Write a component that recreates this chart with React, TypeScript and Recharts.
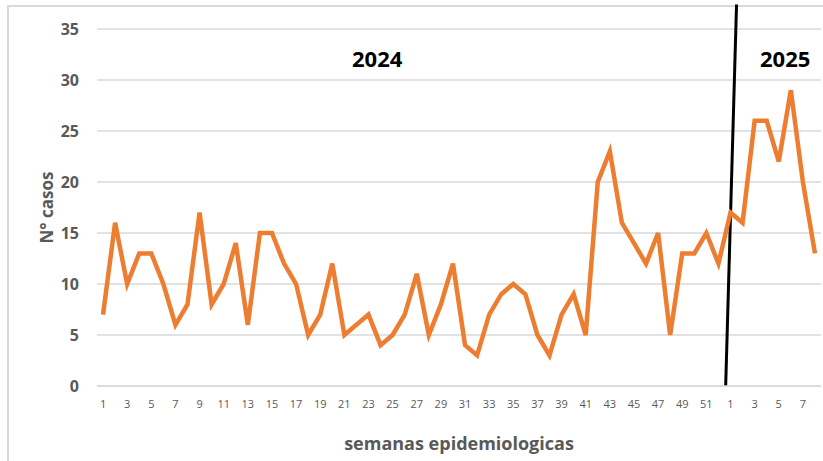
import { LineChart, Line, XAxis, YAxis, CartesianGrid, ReferenceLine, Label } from "recharts";

// semanas 1-52 de 2024 y 1-8 de 2025
const weeks2024 = Array.from({ length: 52 }, (_, i) => String(i + 1));
const weeks2025 = ["1", "2", "3", "4", "5", "6", "7", "8"];

const cases2024 = [
  7, 16, 10, 13, 13, 10, 6, 8, 17, 8, 10, 14, 6, 15, 15, 12, 10, 5, 7, 12,
  5, 6, 7, 4, 5, 7, 11, 5, 8, 12, 4, 3, 7, 9, 10, 9, 5, 3, 7, 9,
  5, 20, 23, 16, 14, 12, 15, 5, 13, 13, 15, 12,
];
const cases2025 = [17, 16, 26, 26, 22, 29, 20, 13];

const yTicks = [0, 5, 10, 15, 20, 25, 30, 35];

const weekLabels = [...weeks2024, ...weeks2025];
const casos = [...cases2024, ...cases2025];
const data = weekLabels.map((w, i) => ({ idx: i, semana: w, casos: casos[i] }));
const xTicks = data.filter((d) => d.idx % 2 === 0).map((d) => d.idx);

const gray = "#595959";
const font = "'Open Sans', sans-serif";

export default function App() {
  return (
    <div style={{ position: "absolute", left: 0, top: 0, width: 823, height: 461, background: "#fff" }}>
      <div
        style={{
          position: "absolute",
          left: 7,
          top: 5,
          width: 830,
          height: 470,
          border: "2px solid #d9d9d9",
          boxSizing: "border-box",
        }}
      />
      <LineChart
        width={823}
        height={461}
        data={data}
        margin={{ top: 29, right: 2, left: 37, bottom: 45 }}
        style={{ position: "absolute", left: 0, top: 0, fontFamily: font }}
      >
        <CartesianGrid vertical={false} stroke="#d9d9d9" strokeWidth={1.5} />
        <XAxis
          dataKey="idx"
          type="number"
          domain={[-0.5, 59.5]}
          ticks={xTicks}
          interval={0}
          tickFormatter={(v: number) => weekLabels[v]}
          axisLine={{ stroke: "#d9d9d9", strokeWidth: 1.5 }}
          tickLine={false}
          tick={{ fill: gray, fontSize: 11, fontFamily: font }}
          tickMargin={8}
          height={30}
        >
          <Label
            value="semanas epidemiologicas"
            position="insideBottom"
            offset={-34}
            style={{ fill: gray, fontSize: 18, fontWeight: 700, fontFamily: font }}
          />
        </XAxis>
        <YAxis
          domain={[0, 35]}
          ticks={yTicks}
          axisLine={false}
          tickLine={false}
          tick={{ fill: gray, fontSize: 16, fontWeight: 700, fontFamily: font }}
          tickMargin={12}
          width={60}
        >
          <Label
            value="N° casos"
            angle={-90}
            position="insideLeft"
            offset={10}
            style={{ fill: gray, fontSize: 17, fontWeight: 700, fontFamily: font, textAnchor: "middle" }}
          />
        </YAxis>
        <ReferenceLine
          segment={[
            { x: 51.6, y: 0 },
            { x: 52.5, y: 37.4 },
          ]}
          stroke="#000"
          strokeWidth={3}
          ifOverflow="visible"
        />
        <Line
          type="linear"
          dataKey="casos"
          stroke="#ED7D31"
          strokeWidth={4.5}
          dot={false}
          isAnimationActive={false}
        />
      </LineChart>
      <div
        style={{
          position: "absolute",
          left: 352,
          top: 43,
          fontFamily: font,
          fontWeight: 700,
          fontSize: 22,
          color: "#000",
        }}
      >
        2024
      </div>
      <div
        style={{
          position: "absolute",
          left: 760,
          top: 43,
          fontFamily: font,
          fontWeight: 700,
          fontSize: 22,
          color: "#000",
        }}
      >
        2025
      </div>
    </div>
  );
}
